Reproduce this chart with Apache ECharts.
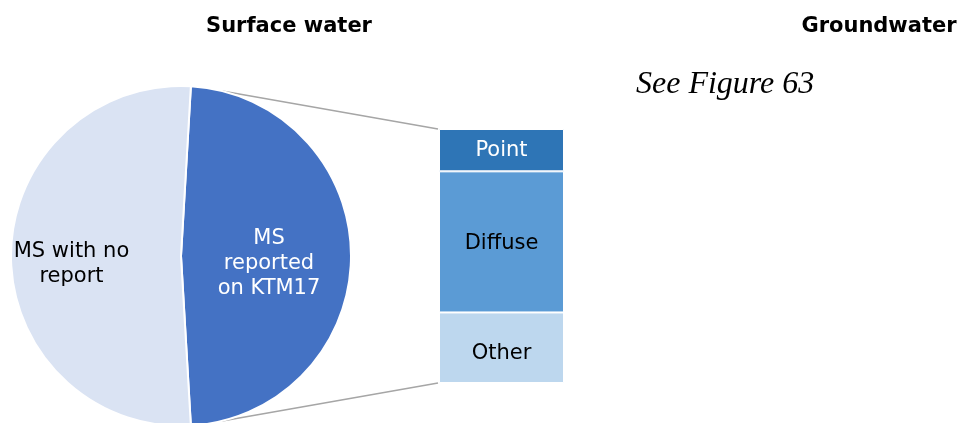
<!DOCTYPE html>
<html>
<head>
<meta charset="utf-8">
<script src="https://cdn.jsdelivr.net/npm/echarts@6/dist/echarts.min.js"></script>
<style>
  html, body { margin: 0; padding: 0; background: #fff; }
  #chart { width: 960px; height: 423px; }
</style>
</head>
<body>
<div id="chart"></div>
<script>
// pie: member states (counts)
const pieNames = ['MS\nreported\non KTM17', 'MS with no\nreport']
const pieValues = [13, 14]
const pieColors = ['#4472C4', '#DAE3F3']

// bar of pie: breakdown of the reporting MS
const barNames = ['Point', 'Diffuse', 'Other']
const barValues = [3, 10, 5]
const barColors = ['#2E75B6', '#5B9BD5', '#BDD7EE']
const barLabelColors = ['#fff', '#000', '#000']
const barLabelShift = [0, 2, 6]

const font = 'DejaVu Sans, Verdana, sans-serif'

// layout
const pieCenter = [181, 256]
const pieRadius = 170
const barBox = { left: 439, top: 129, width: 125, height: 254 }

const total = barValues.reduce((a, b) => a + b, 0)
const pieSum = pieValues.reduce((a, b) => a + b, 0)
// blue slice centred on the horizontal
const startAngle = 90 - (180 - (pieValues[0] / pieSum) * 360) / 2

const chart = echarts.init(document.getElementById('chart'))

const option = {
  animation: false,
  title: [
    {
      text: 'Surface water',
      left: 284,
      top: 11,
      textAlign: 'center',
      textStyle: { fontFamily: font, fontSize: 21, fontWeight: 'bold', color: '#000' }
    },
    {
      text: 'Groundwater',
      left: 874,
      top: 11,
      textAlign: 'center',
      textStyle: { fontFamily: font, fontSize: 21, fontWeight: 'bold', color: '#000' }
    },
    {
      text: 'See Figure 63',
      left: 631,
      top: 64,
      textStyle: {
        fontFamily: 'Liberation Serif, Times New Roman, serif',
        fontSize: 32,
        fontStyle: 'italic',
        fontWeight: 'normal',
        color: '#000'
      }
    }
  ],
  grid: {
    left: barBox.left,
    top: barBox.top,
    width: barBox.width,
    height: barBox.height
  },
  xAxis: { type: 'category', data: ['KTM17'], show: false },
  yAxis: { type: 'value', min: 0, max: total, inverse: true, show: false },
  series: [
    {
      type: 'pie',
      center: pieCenter,
      radius: pieRadius,
      startAngle: startAngle,
      clockwise: true,
      silent: true,
      itemStyle: { borderColor: '#fff', borderWidth: 2 },
      label: {
        show: true,
        position: 'inside',
        fontFamily: font,
        fontSize: 21,
        lineHeight: 25,
        color: '#000',
        // small empty line on top pushes the text a little lower
        formatter: p => '{s|}\n' + p.name,
        rich: { s: { lineHeight: 16, fontSize: 1 } }
      },
      data: pieNames.map((name, i) => ({
        name,
        value: pieValues[i],
        itemStyle: { color: pieColors[i] },
        label:
          i === 0
            ? { color: '#fff' }
            : { color: '#000', padding: [0, 43, 0, 0] }
      }))
    },
    ...barNames.map((name, i) => ({
      type: 'bar',
      name,
      stack: 'breakdown',
      barWidth: '100%',
      silent: true,
      data: [barValues[i]],
      itemStyle: { color: barColors[i], borderColor: '#fff', borderWidth: 1 },
      label: {
        show: true,
        position: 'inside',
        formatter: '{a}',
        fontFamily: font,
        fontSize: 21,
        color: barLabelColors[i],
        offset: [0, barLabelShift[i]]
      }
    }))
  ]
}

chart.setOption(option)

// connector lines from the pie edge to the bar corners
const yTop = chart.convertToPixel({ gridIndex: 0 }, [0, 0])[1]
const yBottom = chart.convertToPixel({ gridIndex: 0 }, [0, total])[1]
const a = (14 * Math.PI) / 180
const px = pieCenter[0] + pieRadius * Math.sin(a)
const pyTop = pieCenter[1] - pieRadius * Math.cos(a)
const pyBottom = pieCenter[1] + pieRadius * Math.cos(a)
const lineStyle = { stroke: '#A6A6A6', lineWidth: 1.5 }

chart.setOption({
  graphic: [
    {
      type: 'line',
      silent: true,
      z: -1,
      shape: { x1: px, y1: pyTop, x2: barBox.left - 1, y2: yTop },
      style: lineStyle
    },
    {
      type: 'line',
      silent: true,
      z: -1,
      shape: { x1: px, y1: pyBottom, x2: barBox.left - 1, y2: yBottom },
      style: lineStyle
    }
  ]
})
</script>
</body>
</html>
